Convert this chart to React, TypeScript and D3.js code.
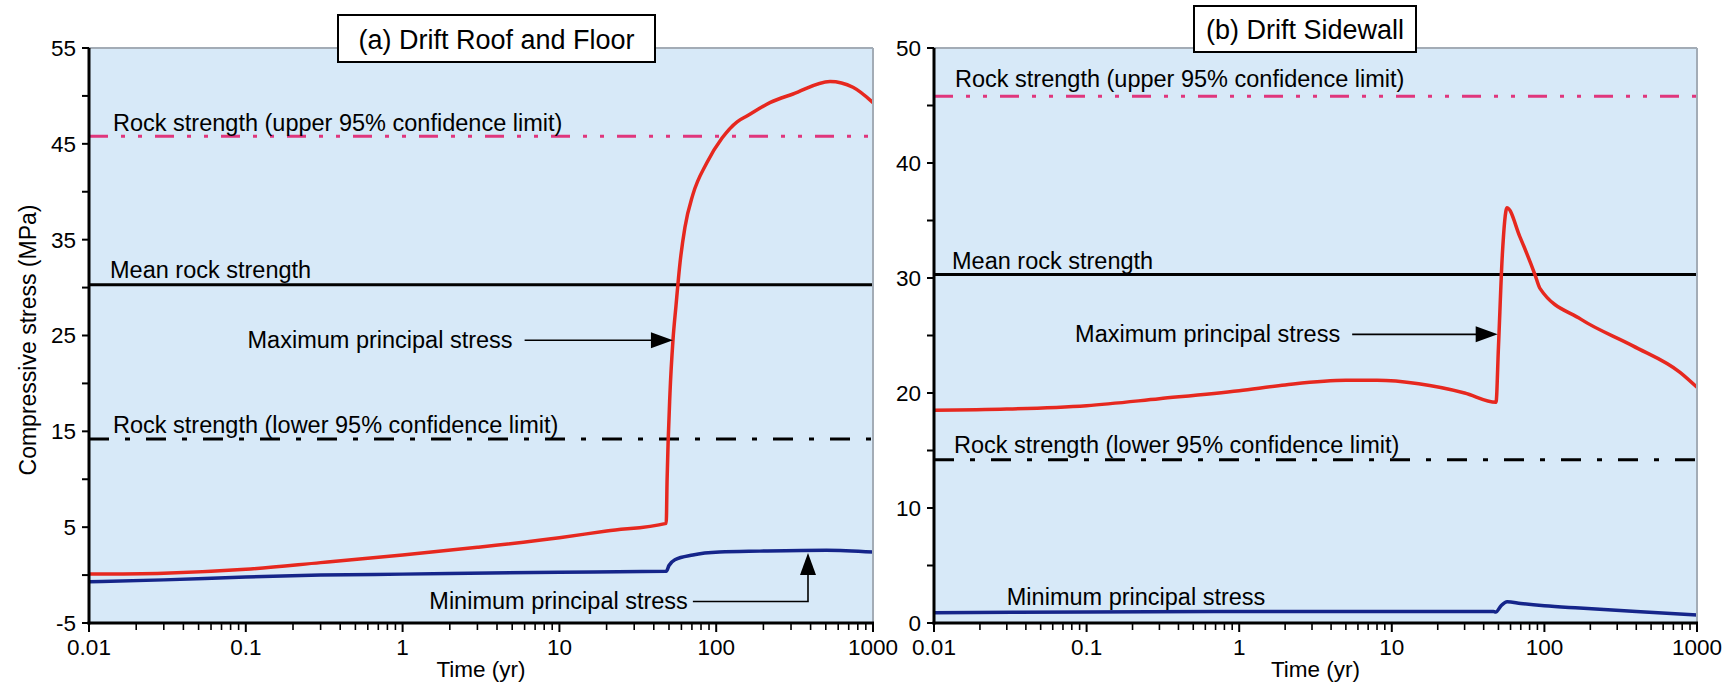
import React from 'react'
import * as d3 from 'd3'

// x axis (time, log)
const xTickValues = [0.01, 0.1, 1, 10, 100, 1000]
const xTickLabels = ['0.01', '0.1', '1', '10', '100', '1000']

// y axis labels
const roofYLabels = [-5, 5, 15, 25, 35, 45, 55]
const sidewallYLabels = [0, 10, 20, 30, 40, 50]

// rock strength reference lines (MPa)
const strengthUpper = 45.8
const strengthMean = 30.3
const strengthLower = 14.2

// (a) roof and floor: [time (yr), stress (MPa)]
const roofMax = [
  [0.01, 0.1], [0.03, 0.2], [0.1, 0.6], [0.3, 1.3], [1, 2.1], [3, 2.9], [10, 3.9],
  [20, 4.6], [48, 5.4], [48.6, 9.8], [50.7, 18.9], [53, 24.5], [55.4, 28.1],
  [58.8, 32.6], [63.2, 36.3], [71, 39.7], [87, 43.0], [109, 45.6], [136, 47.3],
  [157, 47.9], [220, 49.3], [309, 50.2], [532, 51.5], [745, 50.9], [1000, 49.3],
]
const roofMin = [
  [0.01, -0.7], [0.03, -0.5], [0.1, -0.2], [0.3, 0], [1, 0.1], [10, 0.3], [48, 0.4],
  [50, 1.0], [54.5, 1.6], [71, 2.1], [105, 2.4], [190, 2.5], [505, 2.6], [1000, 2.4],
]

// (b) sidewall
const sidewallMax = [
  [0.01, 18.5], [0.03, 18.6], [0.1, 18.9], [0.3, 19.5], [1, 20.2], [2, 20.7], [5, 21.1],
  [8, 21.1], [15, 20.8], [30, 20.0], [48.2, 19.2], [50, 24], [53, 32], [56.9, 36.1],
  [69, 33.6], [86.7, 30.3], [93.5, 29.1], [174, 26.4], [380, 24.1], [774, 21.8], [1000, 20.5],
]
const sidewallMin = [
  [0.01, 0.9], [0.1, 0.95], [1, 1.0], [10, 1.0], [46.5, 1.0], [48, 0.95], [52, 1.5],
  [57, 1.85], [70, 1.7], [100, 1.5], [170, 1.3], [400, 1.0], [1000, 0.7],
]

const font = 'Liberation Sans, Arial, Helvetica, sans-serif'
const red = '#e6281f'
const blue = '#15258a'
const pink = '#e0367c'
const bg = '#d7e9f8'
const frame = '#a3acb6'

const arrowHead = (tipX, tipY, dir) => {
  // dir: 'right' or 'up'
  const len = 22, half = 8
  if (dir === 'right') return `${tipX},${tipY} ${tipX - len},${tipY - half} ${tipX - len},${tipY + half}`
  return `${tipX},${tipY} ${tipX - half},${tipY + len} ${tipX + half},${tipY + len}`
}

const Panel = (props) => {
  const p = props
  const x = d3.scaleLog().domain([0.01, 1000]).range([p.left, p.right])
  const y = d3.scaleLinear().domain([p.yMin, p.yMax]).range([p.bottom, p.top])
  const line = d3.line().x(d => x(d[0])).y(d => y(d[1])).curve(d3.curveMonotoneX)

  const minorTicks = []
  xTickValues.slice(0, 5).forEach(dec => {
    for (let k = 2; k <= 9; k++) minorTicks.push(dec * k)
  })
  const yTicks = d3.range(p.yMin, p.yMax + 0.01, 5)

  const fs = 23.5
  const maxTipX = x(p.maxArrow.tip[0])
  const maxTipY = y(p.maxArrow.tip[1])
  const maxStartX = x(p.maxArrow.startT)

  return (
    <g fontFamily={font}>
      <rect x={p.left} y={p.top} width={p.right - p.left} height={p.bottom - p.top} fill={bg} />

      {/* reference lines */}
      <line x1={p.left} x2={p.right} y1={y(strengthUpper)} y2={y(strengthUpper)}
        stroke={pink} strokeWidth={3} strokeDasharray="19,13,4,13,4,13" />
      <line x1={p.left} x2={p.right} y1={y(strengthMean)} y2={y(strengthMean)}
        stroke="#000" strokeWidth={3} />
      <line x1={p.left} x2={p.right} y1={y(strengthLower)} y2={y(strengthLower)}
        stroke="#000" strokeWidth={3} strokeDasharray="20,16,5,16" />

      <text x={p.left + p.upperText[0]} y={y(strengthUpper) + p.upperText[1]} fontSize={fs}>
        Rock strength (upper 95% confidence limit)</text>
      <text x={p.left + p.meanText[0]} y={y(strengthMean) + p.meanText[1]} fontSize={fs}>
        Mean rock strength</text>
      <text x={p.left + p.lowerText[0]} y={y(strengthLower) + p.lowerText[1]} fontSize={fs}>
        Rock strength (lower 95% confidence limit)</text>

      {/* stress curves */}
      <path d={line(p.minData)} fill="none" stroke={blue} strokeWidth={3.5} />
      <path d={line(p.maxData)} fill="none" stroke={red} strokeWidth={3.5} />

      {/* max principal stress annotation */}
      <text x={maxStartX - 12} y={maxTipY + 8} fontSize={fs} textAnchor="end">Maximum principal stress</text>
      <line x1={maxStartX} x2={maxTipX - 20} y1={maxTipY} y2={maxTipY} stroke="#000" strokeWidth={1.6} />
      <polygon points={arrowHead(maxTipX, maxTipY, 'right')} fill="#000" />

      {/* min principal stress annotation */}
      {p.minArrow ? (() => {
        const sx = x(p.minArrow.startT)
        const cx = x(p.minArrow.cornerT)
        const ly = y(p.minArrow.lineV)
        const ty = y(p.minArrow.tipV)
        return (
          <g>
            <text x={sx - 5} y={ly + 7} fontSize={fs} textAnchor="end">Minimum principal stress</text>
            <polyline points={`${sx},${ly} ${cx},${ly} ${cx},${ty + 18}`} fill="none" stroke="#000" strokeWidth={1.6} />
            <polygon points={arrowHead(cx, ty, 'up')} fill="#000" />
          </g>
        )
      })() : (
        <text x={x(p.minText.t)} y={y(p.minText.v)} fontSize={fs}>Minimum principal stress</text>
      )}

      {/* frame */}
      <line x1={p.left} x2={p.right} y1={p.top} y2={p.top} stroke={frame} strokeWidth={2} />
      <line x1={p.right} x2={p.right} y1={p.top} y2={p.bottom} stroke={frame} strokeWidth={2} />

      {/* x axis */}
      <line x1={p.left - 1.5} x2={p.right + 1} y1={p.bottom} y2={p.bottom} stroke="#000" strokeWidth={3} />
      {xTickValues.map((t, i) => (
        <g key={'xt' + i} transform={`translate(${x(t)},${p.bottom})`}>
          <line y1={0} y2={9} stroke="#000" strokeWidth={2} />
          <text y={32} textAnchor="middle" fontSize={22.5}>{xTickLabels[i]}</text>
        </g>
      ))}
      {minorTicks.map((t, i) => (
        <line key={'mt' + i} x1={x(t)} x2={x(t)} y1={p.bottom} y2={p.bottom + 7} stroke="#000" strokeWidth={1.6} />
      ))}
      <text x={(p.left + p.right) / 2} y={p.bottom + 54} textAnchor="middle" fontSize={22.5}>Time (yr)</text>

      {/* y axis */}
      <line x1={p.left} x2={p.left} y1={p.top} y2={p.bottom + 1.5} stroke="#000" strokeWidth={3} />
      {yTicks.map((v, i) => (
        <line key={'yt' + i} x1={p.left - 7} x2={p.left} y1={y(v)} y2={y(v)} stroke="#000" strokeWidth={2} />
      ))}
      {p.yLabels.map((v, i) => (
        <text key={'yl' + i} x={p.left - 13} y={y(v)} dy="0.35em" textAnchor="end" fontSize={22.5}>{v}</text>
      ))}

      {/* title box */}
      <rect x={p.titleBox[0]} y={p.titleBox[1]} width={p.titleBox[2]} height={p.titleBox[3]}
        fill="#fff" stroke="#000" strokeWidth={2} />
      <text x={p.titleBox[0] + p.titleBox[2] / 2} y={p.titleBox[1] + p.titleBox[3] / 2 + 10}
        textAnchor="middle" fontSize={27}>{p.title}</text>
    </g>
  )
}

const App = () => {
  const svgWidth = 1724
  const svgHeight = 686
  return (
    <div style={{ position: 'absolute', left: 0, top: 0 }}>
      <svg width={svgWidth} height={svgHeight} style={{ display: 'block', background: '#fff' }}>
        <text transform="translate(36,340) rotate(-90)" textAnchor="middle" fontSize={23} fontFamily={font}>
          Compressive stress (MPa)</text>
        <Panel
          left={89} right={873} top={48} bottom={623}
          yMin={-5} yMax={55} yLabels={roofYLabels}
          maxData={roofMax} minData={roofMin}
          upperText={[24, -5]} meanText={[21, -7]} lowerText={[24, -6]}
          maxArrow={{ startT: 6.0, tip: [53, 24.5] }}
          minArrow={{ startT: 71, cornerT: 385, lineV: -2.76, tipV: 2.3 }}
          title="(a) Drift Roof and Floor" titleBox={[338, 15, 317, 47]}
        />
        <Panel
          left={934} right={1697} top={48} bottom={623}
          yMin={0} yMax={50} yLabels={sidewallYLabels}
          maxData={sidewallMax} minData={sidewallMin}
          upperText={[21, -9]} meanText={[18, -6]} lowerText={[20, -7]}
          maxArrow={{ startT: 5.5, tip: [49.4, 25.1] }}
          minText={{ t: 0.03, v: 1.57 }}
          title="(b) Drift Sidewall" titleBox={[1194, 6, 222, 46]}
        />
      </svg>
    </div>
  )
}

export default App
